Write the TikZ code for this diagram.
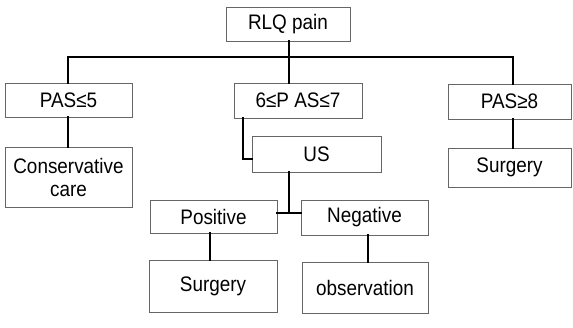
\documentclass[tikz,border=0pt]{standalone}
\usepackage{fontspec}
\setmainfont{Liberation Sans}
\newfontfamily\narrowsans[FakeStretch=0.9]{Liberation Sans}
\begin{document}
\begin{tikzpicture}[x=1pt,y=-1pt,
  box/.style={draw=black!60, line width=0.6pt, inner sep=0pt, align=center,
    font=\narrowsans\fontsize{21}{23}\selectfont},
  conn/.style={draw=black, line width=2pt, line cap=rect}]
\useasboundingbox[fill=white] (0,0) rectangle (573,327);

\node[box, minimum width=124pt, minimum height=34pt] (rlq) at (288,24) {RLQ pain};
\node[box, minimum width=127pt, minimum height=34pt] (p5) at (68.5,100) {PAS≤5};
\node[box, minimum width=128pt, minimum height=35pt] (p67) at (298,100.5) {6≤P AS≤7};
\node[box, minimum width=123pt, minimum height=35pt] (p8) at (509.5,101.5) {PAS≥8};
\node[box, minimum width=127pt, minimum height=60pt] (cc) at (68.5,177) {Conservative\\care};
\node[box, minimum width=129pt, minimum height=36pt] (us) at (316.5,154) {US};
\node[box, minimum width=123pt, minimum height=39pt] (s8) at (509.5,167.5) {Surgery};
\node[box, minimum width=127pt, minimum height=33pt] (pos) at (213.5,216.5) {Positive};
\node[box, minimum width=127pt, minimum height=35pt] (neg) at (364.5,217.5) {Negative};
\node[box, minimum width=128pt, minimum height=52pt] (surg) at (213,286) {Surgery};
\node[box, minimum width=126pt, minimum height=51pt] (obs) at (365,287.5) {observation};

\coordinate (bar) at (0,57);
\coordinate (c5) at (68,0);
\coordinate (cm) at (289,0);
\coordinate (c8) at (513,0);
\coordinate (c67) at (243,0);
\coordinate (usin) at (252,159);
\coordinate (jn) at (289,213);
\coordinate (cp) at (210,0);
\coordinate (cn) at (368,0);

\draw[conn] (cm |- rlq.south) -- (cm |- bar);
\draw[conn] (c5 |- p5.north) -- (c5 |- bar) -- (c8 |- bar) -- (c8 |- p8.north);
\draw[conn] (cm |- bar) -- (cm |- p67.north);
\draw[conn] (c5 |- p5.south) -- (c5 |- cc.north);
\draw[conn] (c8 |- p8.south) -- (c8 |- s8.north);
\draw[conn] (c67 |- p67.south) |- (usin);
\draw[conn] (cm |- us.south) -- (jn);
\draw[conn] (pos.east |- jn) -- (neg.west |- jn);
\draw[conn] (cp |- pos.south) -- (cp |- surg.north);
\draw[conn] (cn |- neg.south) -- (cn |- obs.north);
\end{tikzpicture}
\end{document}
